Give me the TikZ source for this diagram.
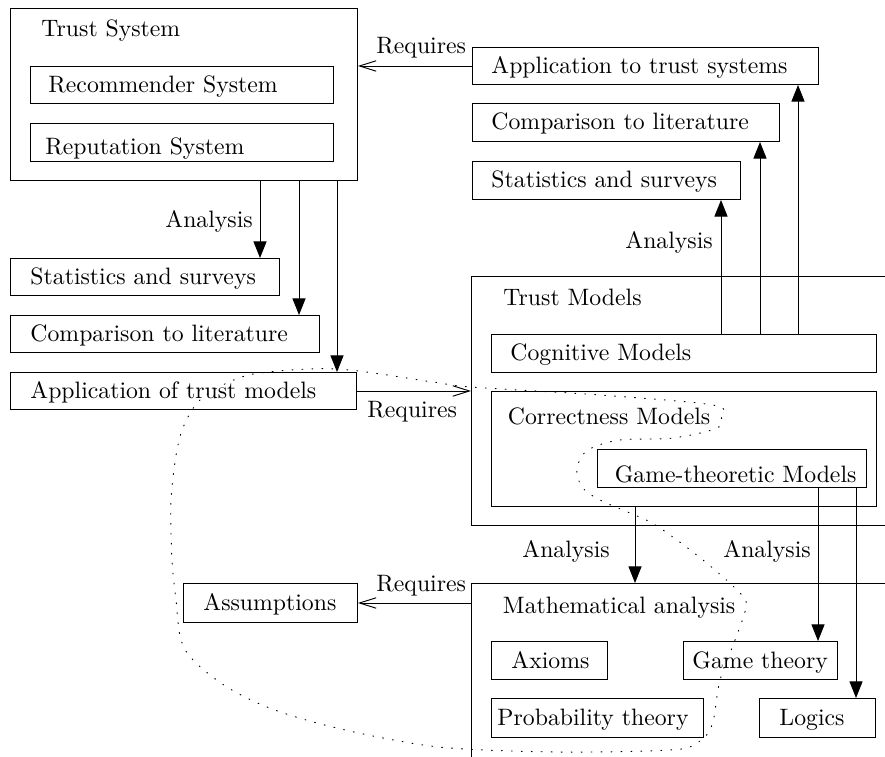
\documentclass[tikz,border=0pt]{standalone}
\usetikzlibrary{arrows.meta}
\def\pxu{0.4213pt}
\tikzset{
  bx/.style n args={3}{draw, anchor=north west, minimum width=#1*\pxu, minimum height=#2*\pxu,
    inner xsep=#3*\pxu, inner ysep=0pt, text width=(#1-2*#3)*\pxu, align=left,
    text height=6.6pt, text depth=0.27pt},
  low/.style={text height=10.5pt, text depth=0.4pt},
  lower/.style={text height=12pt, text depth=0.2pt},
  ctr/.style 2 args={draw, anchor=north west, minimum width=#1*\pxu, minimum height=#2*\pxu, inner sep=0pt},
  ttl/.style={anchor=base west, inner sep=0pt},
  fa/.style={-{Triangle[length=7pt,width=5.5pt]}},
  oa/.style={-{Straight Barb[length=7pt,width=4.4pt]}},
  dotc/.style={dash pattern=on 0.4pt off 3.8pt, line cap=round}
}
\begin{document}
\begin{tikzpicture}[x=\pxu, y=-\pxu]
\path[use as bounding box] (0,0) rectangle (885,756);
\clip (0,0) rectangle (885,756);

% Trust System container
\node[ctr={347}{172}] (ts) at (10,8) {};
\node[ttl] (tst) at (41,36) {Trust System};
\node[bx={303}{37}{18}] (rec) at (30,66) {Recommender System};
\node[bx={303}{38}{15}, low] (rep) at (30,123) {Reputation System};

% left column
\node[bx={269}{37}{20}] (ss1) at (10,258) {Statistics and surveys};
\node[bx={309}{37}{20}] (cl1) at (10,315) {Comparison to literature};
\node[bx={346}{37}{20}] (am) at (10,372) {Application of trust models};

% right column top
\node[bx={346}{37}{19}] (ats) at (472,47) {Application to trust systems};
\node[bx={307}{38}{19}] (cl2) at (472,103) {Comparison to literature};
\node[bx={268}{38}{19}] (ss2) at (472,161) {Statistics and surveys};

% Trust Models container
\node[ctr={430}{249}] (tm) at (471,276) {};
\node[ttl] (tmt) at (503,305) {Trust Models};
\node[bx={385}{38}{19}] (cog) at (491,334) {Cognitive Models};
\node[ctr={385}{115}] (cor) at (491,391) {};
\node[ttl] (cort) at (507.5,424) {Correctness Models};
\node[bx={269}{38}{10}, lower, align=right] (gm) at (597,449) {Game-theoretic Models};

% Mathematical analysis container
\node[ctr={430}{200}] (ma) at (471,583) {};
\node[ttl] (mat) at (502.5,613) {Mathematical analysis};
\node[bx={116}{38}{20}] (ax) at (491,641) {Axioms};
\node[bx={212}{39}{6}] (prob) at (491,698) {Probability theory};
\node[bx={154}{38}{9}] (gt) at (683,641) {Game theory};
\node[bx={116}{39}{20}] (lo) at (759,698) {Logics};

\node[bx={174}{39}{20}] (asm) at (183,583) {Assumptions};

% x positions of vertical connectors
\coordinate (k260) at (260,0);
\coordinate (k299) at (299,0);
\coordinate (k337) at (337,0);
\coordinate (k721) at (721,0);
\coordinate (k760) at (760,0);
\coordinate (k798) at (798,0);
\coordinate (k635) at (635,0);
\coordinate (k818) at (818,0);
\coordinate (k856) at (856,0);

% connectors
\draw[fa] (k260 |- ts.south) -- (k260 |- ss1.north);
\draw[fa] (k299 |- ts.south) -- (k299 |- cl1.north);
\draw[fa] (k337 |- ts.south) -- (k337 |- am.north);
\draw[oa] (am.east) -- (am.east -| tm.west);
\draw[oa] (ats.west) -- (ats.west -| ts.east);
\draw[fa] (k721 |- cog.north) -- (k721 |- ss2.south);
\draw[fa] (k760 |- cog.north) -- (k760 |- cl2.south);
\draw[fa] (k798 |- cog.north) -- (k798 |- ats.south);
\draw[fa] (k635 |- cor.south) -- (k635 |- ma.north);
\draw[fa] (k818 |- gm.south) -- (k818 |- gt.north);
\draw[fa] (k856 |- gm.south) -- (k856 |- lo.north);
\draw[oa] (asm.east -| ma.west) -- (asm.east);

% labels
\node[ttl] (l1) at (376,53) {Requires};
\node[ttl] (l2) at (165,227) {Analysis};
\node[ttl] (l3) at (625,248) {Analysis};
\node[ttl] (l4) at (367,417) {Requires};
\node[ttl] (l5) at (522,557) {Analysis};
\node[ttl] (l6) at (723,557) {Analysis};
\node[ttl] (l7) at (376,591) {Requires};

% dotted region
\draw[dotc] plot[smooth cycle, tension=0.55] coordinates {
 (260,373) (337,369) (433,382) (471,387) (600,395) (713,405) (721,416) (717,428)
 (673,438) (620,440) (588,450) (577,468) (582,487) (600,500) (630,513) (657,526)
 (703,560) (740,593) (746,607) (735,640) (720,680) (712,725) (697,743) (670,750)
 (560,752) (450,748) (383,738) (317,723) (267,707) (227,687) (195,662) (181,640)
 (176,600) (172,560) (171,500) (177,450) (185,423) (200,400) (227,383)};
\end{tikzpicture}
\end{document}
